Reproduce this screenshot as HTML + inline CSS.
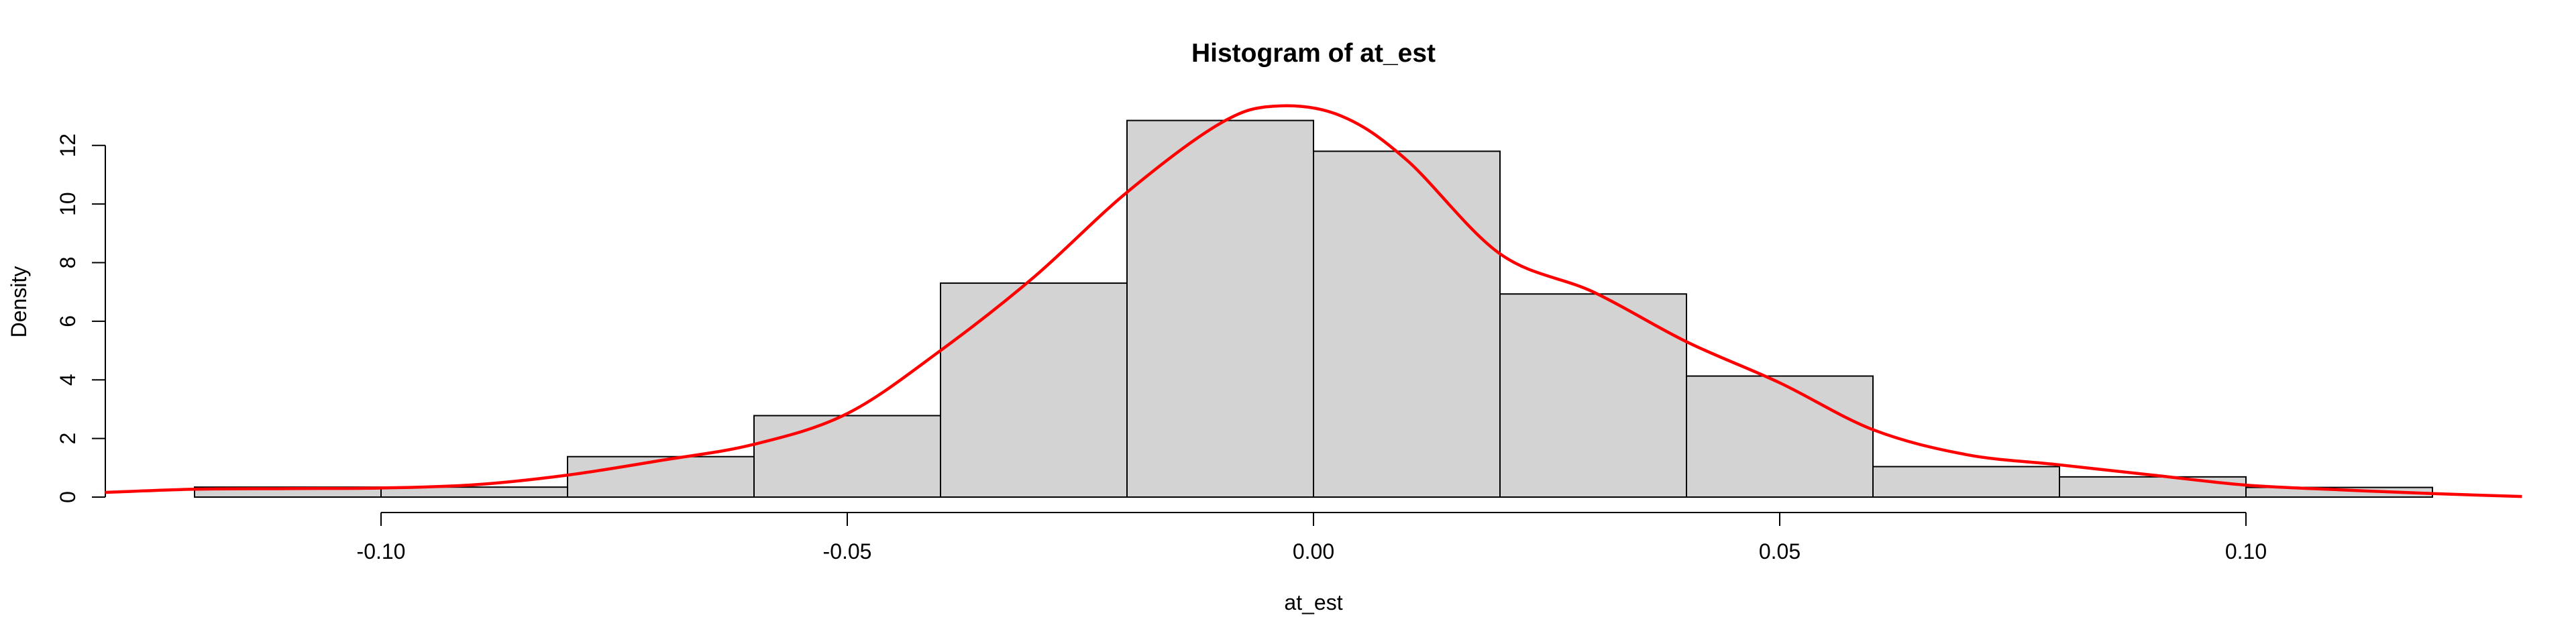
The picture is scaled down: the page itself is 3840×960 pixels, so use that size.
<!DOCTYPE html>
<html><head><meta charset="utf-8"><style>
html,body{margin:0;padding:0;background:#fff;}
svg{display:block;font-family:"Liberation Sans",Arial,sans-serif;}
</style></head><body>
<svg id="chart" width="3840" height="960" viewBox="0 0 3840 960" xmlns="http://www.w3.org/2000/svg">
<text x="1958" y="92" text-anchor="middle" font-size="39" font-weight="bold">Histogram of at_est</text>
<text x="1958" y="909" text-anchor="middle" font-size="32">at_est</text>
<text transform="translate(39,450) rotate(-90)" text-anchor="middle" font-size="32">Density</text>
<g id="bars"></g>
<g id="axes"></g>
<path id="curve" fill="none" stroke="#ff0000" stroke-width="4.5"/>
</svg>
<script>
const binStarts = [-0.12,-0.10,-0.08,-0.06,-0.04,-0.02,0.00,0.02,0.04,0.06,0.08,0.10];
const binWidth = 0.02;
const densities = [0.34,0.34,1.38,2.78,7.30,12.85,11.80,6.93,4.13,1.04,0.69,0.33];
const xTicks = [-0.10,-0.05,0.00,0.05,0.10];
const xTickLabels = ["-0.10","-0.05","0.00","0.05","0.10"];
const yTicks = [0,2,4,6,8,10,12];
const yTickLabels = ["0","2","4","6","8","10","12"];
const curveX = [-0.1296,-0.12,-0.11,-0.10,-0.09,-0.08,-0.07,-0.06,-0.05,-0.04,-0.03,-0.02,-0.01,-0.004,0.003,0.01,0.02,0.03,0.04,0.05,0.06,0.07,0.08,0.09,0.10,0.11,0.12,0.1296];
const curveY = [0.16,0.27,0.29,0.31,0.42,0.75,1.25,1.8,2.85,5.0,7.5,10.4,12.75,13.34,13.0,11.5,8.3,7.0,5.3,3.9,2.3,1.45,1.1,0.75,0.41,0.25,0.12,0.02];

const NS = "http://www.w3.org/2000/svg";
const xs = v => 1958 + v * 13900;
const ys = v => 741 - v * 43.69;
function mk(tag, attrs, parent){const e=document.createElementNS(NS,tag);for(const k in attrs)e.setAttribute(k,attrs[k]);parent.appendChild(e);return e;}

const bars = document.getElementById('bars');
binStarts.forEach((b,i)=>{
  const r = mk('rect',{x:xs(b),y:ys(densities[i]),width:xs(b+binWidth)-xs(b),height:ys(0)-ys(densities[i]),fill:'#d3d3d3',stroke:'#000','stroke-width':2},bars);
  
  
});

const axes = document.getElementById('axes');
const xl = mk('line',{x1:xs(xTicks[0]),x2:xs(xTicks[xTicks.length-1]),y1:764,y2:764,stroke:'#000','stroke-width':2},axes);


xTicks.forEach((t,i)=>{
  const l = mk('line',{x1:xs(t),x2:xs(t),y1:764,y2:784,stroke:'#000','stroke-width':2},axes);
  
  
  const tx = mk('text',{x:xs(t),y:833,'text-anchor':'middle','font-size':32},axes);
  tx.textContent = xTickLabels[i];
  
  
});
const yl = mk('line',{x1:157,x2:157,y1:ys(yTicks[0]),y2:ys(yTicks[yTicks.length-1]),stroke:'#000','stroke-width':2},axes);


yTicks.forEach((t,i)=>{
  const l = mk('line',{x1:137,x2:157,y1:ys(t),y2:ys(t),stroke:'#000','stroke-width':2},axes);
  
  
  const tx = mk('text',{transform:`translate(112,${ys(t)}) rotate(-90)`,'text-anchor':'middle','font-size':32},axes);
  tx.textContent = yTickLabels[i];
  
  
});

// Catmull-Rom smoothed density curve
const P = curveX.map((x,i)=>[xs(x),ys(curveY[i])]);
let d = `M${P[0][0]},${P[0][1]}`;
for(let i=0;i<P.length-1;i++){
  const p0=P[Math.max(0,i-1)],p1=P[i],p2=P[i+1],p3=P[Math.min(P.length-1,i+2)];
  const c1=[p1[0]+(p2[0]-p0[0])/6,p1[1]+(p2[1]-p0[1])/6];
  const c2=[p2[0]-(p3[0]-p1[0])/6,p2[1]-(p3[1]-p1[1])/6];
  d+=` C${c1[0]},${c1[1]} ${c2[0]},${c2[1]} ${p2[0]},${p2[1]}`;
}
document.getElementById('curve').setAttribute('d',d);
</script>
</body></html>
